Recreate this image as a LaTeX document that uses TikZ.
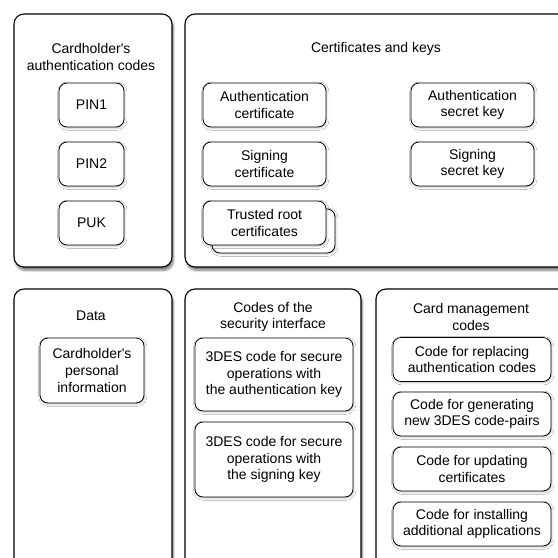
\documentclass[tikz,border=0pt]{standalone}
\usepackage{fontspec}
\setmainfont{Liberation Sans}
\usetikzlibrary{shadows.blur}
\tikzset{
	font=\fontsize{14}{16.6}\selectfont,
	panel/.style={draw, line width=1.1pt, rounded corners=10pt, fill=white,
		inner sep=0pt, blur shadow={shadow xshift=1.5pt, shadow yshift=-3.5pt, shadow blur steps=6, shadow opacity=50}},
	item/.style={draw, line width=0.8pt, rounded corners=8pt, fill=white,
		inner sep=0pt, align=center, minimum height=44pt,
		blur shadow={shadow xshift=0.8pt, shadow yshift=-1.2pt, shadow blur steps=3, shadow opacity=25}},
	title/.style={align=center, inner sep=0pt}
}
\newcommand{\apos}{\textquotesingle}

\begin{document}
\begin{tikzpicture}[x=1pt, y=-1pt]  % pixel grid, y downwards

\useasboundingbox (0,0) rectangle (558,558);
\clip (0,0) rectangle (558,558);

% panels
\node[panel, minimum width=158pt, minimum height=253pt] (authpanel) at (93,140.5) {};
\node[panel, minimum width=390pt, minimum height=253pt] (certpanel) at (380,140.5) {};
\node[panel, minimum width=158pt, minimum height=290pt] (datapanel) at (93,434) {};
\node[panel, minimum width=176pt, minimum height=290pt] (secpanel) at (273,434) {};
\node[panel, minimum width=200pt, minimum height=290pt] (mgmtpanel) at (476,434) {};

% titles
\node[title] (authtitle) at (91,57) {Cardholder\apos s\\authentication codes};
\node[title] (certtitle) at (376,49) {Certificates and keys};
\node[title] (datatitle) at (91,316) {Data};
\node[title] (sectitle) at (273,317) {Codes of the\\security interface};
\node[title] (mgmttitle) at (471,317) {Card management\\codes};

% authentication codes
\node[item, minimum width=65pt] (pin1) at (91.5,105) {PIN1};
\node[item, minimum width=65pt] (pin2) at (91.5,164) {PIN2};
\node[item, minimum width=65pt] (puk) at (91.5,223) {PUK};

% certificates and keys
\node[item, minimum width=123pt] (authcert) at (264.5,105) {Authentication\\certificate};
\node[item, minimum width=123pt] (signcert) at (264.5,164) {Signing\\certificate};
\node[item, minimum width=123pt] (rootback) at (273.5,231) {};
\node[item, minimum width=123pt] (rootcert) at (264.5,223) {Trusted root\\certificates};
\node[item, minimum width=123pt] (authkey) at (472.5,105) {Authentication\\secret key};
\node[item, minimum width=123pt] (signkey) at (472.5,164) {Signing\\secret key};

% data
\node[item, minimum width=104pt, minimum height=65pt] (personal) at (92,370.5) {Cardholder\apos s\\personal\\information};

% security interface
\node[item, minimum width=158pt, minimum height=73pt] (desauth) at (274,374.5) {3DES code for secure\\operations with\\the authentication key};
\node[item, minimum width=158pt, minimum height=75pt] (dessign) at (274,459.5) {3DES code for secure\\operations with\\the signing key};

% card management
\node[item, minimum width=158pt] (replace) at (472,359.5) {Code for replacing\\authentication codes};
\node[item, minimum width=158pt] (generate) at (472,414) {Code for generating\\new 3DES code-pairs};
\node[item, minimum width=158pt] (update) at (472,469) {Code for updating\\certificates};
\node[item, minimum width=158pt] (install) at (472,524) {Code for installing\\additional applications};

\end{tikzpicture}
\end{document}
